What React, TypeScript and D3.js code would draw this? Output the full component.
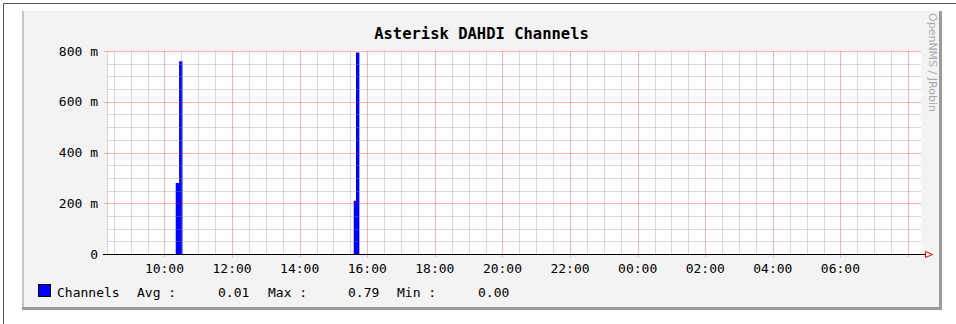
import React, { useEffect, useRef } from 'react';
import * as d3 from 'd3';

// sample start times (HH:MM on the graph day) and channel values in milli-units
const sampleTimes = ['10:20', '10:26', '10:32', '15:36', '15:40', '15:46'];
const sampleValues = [280, 760, 0, 210, 794, 0];

const yTicks = [0, 200, 400, 600, 800];
const yTickLabels = ['0', '200 m', '400 m', '600 m', '800 m'];
const xTickLabels = ['10:00', '12:00', '14:00', '16:00', '18:00', '20:00', '22:00', '00:00', '02:00', '04:00', '06:00'];

const legendItems = [
  { text: 'Channels', x: 57 },
  { text: 'Avg :', x: 137 },
  { text: '0.01', x: 218 },
  { text: 'Max :', x: 268 },
  { text: '0.79', x: 348 },
  { text: 'Min :', x: 397 },
  { text: '0.00', x: 478 },
];

const toDate = (hm: string, nextDay = false) => {
  const [h, m] = hm.split(':').map(Number);
  return new Date(2024, 0, nextDay ? 2 : 1, h, m);
};

const App: React.FC = () => {
  const svgRef = useRef<SVGSVGElement>(null);

  useEffect(() => {
    if (!svgRef.current) return;
    const svg = d3.select(svgRef.current);
    svg.selectAll('*').remove();

    const mono = '"DejaVu Sans Mono", monospace';
    const left = 107, right = 921, top = 51, bottom = 254;

    const start = toDate('08:18');
    const end = toDate('08:23', true);
    const x = d3.scaleTime().domain([start, end]).range([left, right]);
    const y = d3.scaleLinear().domain([0, 800]).range([bottom, top]);

    // outer frame
    svg.append('line').attr('x1', 3.5).attr('y1', 3.5).attr('x2', 956).attr('y2', 3.5).attr('stroke', '#555');
    svg.append('line').attr('x1', 3.5).attr('y1', 3.5).attr('x2', 3.5).attr('y2', 324).attr('stroke', '#555');

    // image background with shaded border
    svg.append('rect').attr('x', 22).attr('y', 11).attr('width', 920).attr('height', 299).attr('fill', '#f3f3f3');
    svg.append('rect').attr('x', 22).attr('y', 11).attr('width', 2).attr('height', 299).attr('fill', '#c6c6c6');
    svg.append('rect').attr('x', 939).attr('y', 11).attr('width', 3).attr('height', 299).attr('fill', '#9a9a9a');
    svg.append('rect').attr('x', 22).attr('y', 307).attr('width', 920).attr('height', 3).attr('fill', '#9a9a9a');

    // plot canvas
    svg.append('rect').attr('x', left).attr('y', top).attr('width', right - left).attr('height', bottom - top).attr('fill', '#fff');

    // data as a step area
    const pts: [Date, number][] = [[start, 0]];
    sampleTimes.forEach((t, i) => pts.push([toDate(t), sampleValues[i]]));
    pts.push([end, 0]);
    const area = d3.area<[Date, number]>()
      .x(d => x(d[0]))
      .y0(y(0))
      .y1(d => y(d[1]))
      .curve(d3.curveStepAfter);
    svg.append('path').datum(pts).attr('d', area).attr('fill', '#0000ff');

    // grid, drawn over the data like rrd does
    const grid = svg.append('g');
    const minorX = d3.timeMinute.every(30)!.range(start, end).filter(d => d.getMinutes() !== 0 || d.getHours() % 2 !== 0);
    grid.selectAll('line.mx').data(minorX).enter().append('line')
      .attr('x1', d => Math.round(x(d)) + 0.5).attr('x2', d => Math.round(x(d)) + 0.5)
      .attr('y1', top).attr('y2', bottom)
      .attr('stroke', 'rgba(140,140,140,0.32)');
    const minorY = d3.range(50, 800, 50).filter(v => v % 200 !== 0);
    grid.selectAll('line.my').data(minorY).enter().append('line')
      .attr('x1', left).attr('x2', right)
      .attr('y1', d => Math.round(y(d)) + 0.5).attr('y2', d => Math.round(y(d)) + 0.5)
      .attr('stroke', 'rgba(140,140,140,0.32)');
    grid.append('line').attr('x1', left + 0.5).attr('x2', left + 0.5).attr('y1', top).attr('y2', bottom)
      .attr('stroke', 'rgba(140,140,140,0.35)');

    const majorX = d3.timeHour.every(2)!.range(start, end);
    grid.selectAll('line.Mx').data(majorX).enter().append('line')
      .attr('x1', d => Math.round(x(d)) + 0.5).attr('x2', d => Math.round(x(d)) + 0.5)
      .attr('y1', top).attr('y2', bottom + 3)
      .attr('stroke', 'rgba(255,0,0,0.3)');
    grid.selectAll('line.My').data(yTicks.filter(v => v > 0)).enter().append('line')
      .attr('x1', left - 3).attr('x2', right)
      .attr('y1', d => Math.round(y(d)) + 0.5).attr('y2', d => Math.round(y(d)) + 0.5)
      .attr('stroke', 'rgba(255,0,0,0.3)');

    // x axis with arrow
    svg.append('line').attr('x1', left - 4).attr('x2', 926).attr('y1', bottom + 0.5).attr('y2', bottom + 0.5)
      .attr('stroke', '#000');
    svg.append('path').attr('d', `M925.5,251.5 L932.5,254.5 L925.5,257.5 Z`)
      .attr('fill', 'none').attr('stroke', '#ff0000');

    // y labels
    svg.append('g').selectAll('text').data(yTicks).enter().append('text')
      .attr('x', 98).attr('y', d => y(d)).attr('dy', '0.36em')
      .attr('text-anchor', 'end').attr('font-family', mono).attr('font-size', 13).attr('fill', '#000')
      .text((d, i) => yTickLabels[i]);

    // x labels
    const labelTimes = majorX.filter(d => d.getHours() !== 8);
    svg.append('g').selectAll('text').data(labelTimes).enter().append('text')
      .attr('x', d => x(d)).attr('y', 273)
      .attr('text-anchor', 'middle').attr('font-family', mono).attr('font-size', 13).attr('fill', '#000')
      .text((d, i) => xTickLabels[i]);

    // title
    svg.append('text').attr('x', 481.5).attr('y', 38.5).attr('text-anchor', 'middle')
      .attr('font-family', mono).attr('font-weight', 'bold').attr('font-size', 15.5).attr('fill', '#000')
      .text('Asterisk DAHDI Channels');

    // watermark
    svg.append('text').attr('transform', 'translate(929,13) rotate(90)')
      .attr('font-family', '"DejaVu Sans", sans-serif').attr('font-size', 11).attr('fill', '#ababab')
      .text('OpenNMS / JRobin');

    // legend
    svg.append('rect').attr('x', 38.5).attr('y', 284.5).attr('width', 12).attr('height', 12)
      .attr('fill', '#0000ff').attr('stroke', '#000');
    svg.append('g').selectAll('text').data(legendItems).enter().append('text')
      .attr('x', d => d.x).attr('y', 296.5)
      .attr('font-family', mono).attr('font-size', 13).attr('fill', '#000')
      .text(d => d.text);
  }, []);

  return (
    <svg ref={svgRef} width={956} height={324}
      style={{ position: 'absolute', left: 0, top: 0, background: '#fff' }} />
  );
};

export default App;
